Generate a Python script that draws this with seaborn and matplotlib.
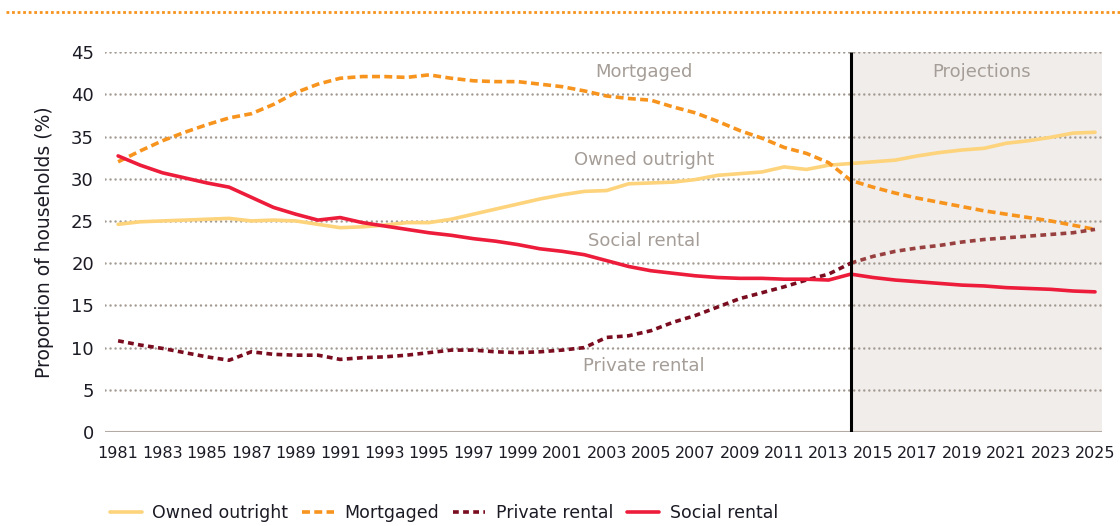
import numpy as np
import pandas as pd
import matplotlib
matplotlib.use("Agg")
import matplotlib.pyplot as plt
from matplotlib import font_manager
from matplotlib.lines import Line2D
import seaborn as sns

years = list(range(1981, 2026))

owned_outright = [24.6, 24.9, 25.0, 25.1, 25.2, 25.3, 25.0, 25.1, 25.0, 24.6,
                  24.2, 24.3, 24.5, 24.8, 24.8, 25.2, 25.8, 26.4, 27.0, 27.6,
                  28.1, 28.5, 28.6, 29.4, 29.5, 29.6, 29.9, 30.4, 30.6, 30.8,
                  31.4, 31.1, 31.6, 31.8, 32.0, 32.2, 32.7, 33.1, 33.4, 33.6,
                  34.2, 34.5, 34.9, 35.4, 35.5]
mortgaged = [32.0, 33.3, 34.5, 35.5, 36.4, 37.2, 37.7, 38.8, 40.2, 41.2,
             41.9, 42.1, 42.1, 42.0, 42.3, 41.9, 41.6, 41.5, 41.5, 41.2,
             40.9, 40.4, 39.8, 39.5, 39.3, 38.5, 37.8, 36.8, 35.7, 34.8,
             33.7, 33.0, 31.9, 29.8, 29.0, 28.3, 27.7, 27.2, 26.7, 26.2,
             25.8, 25.4, 25.0, 24.5, 24.0]
private_rental = [10.8, 10.3, 9.9, 9.4, 8.9, 8.5, 9.5, 9.2, 9.1, 9.1,
                  8.6, 8.8, 8.9, 9.1, 9.4, 9.7, 9.7, 9.5, 9.4, 9.5,
                  9.7, 10.0, 11.2, 11.4, 12.0, 13.0, 13.8, 14.8, 15.8, 16.5,
                  17.2, 18.0, 18.7, 20.0, 20.8, 21.4, 21.8, 22.1, 22.5, 22.8,
                  23.0, 23.2, 23.4, 23.6, 24.0]
social_rental = [32.7, 31.6, 30.7, 30.1, 29.5, 29.0, 27.8, 26.6, 25.8, 25.1,
                 25.4, 24.8, 24.4, 24.0, 23.6, 23.3, 22.9, 22.6, 22.2, 21.7,
                 21.4, 21.0, 20.3, 19.6, 19.1, 18.8, 18.5, 18.3, 18.2, 18.2,
                 18.1, 18.1, 18.0, 18.7, 18.3, 18.0, 17.8, 17.6, 17.4, 17.3,
                 17.1, 17.0, 16.9, 16.7, 16.6]

projection_start = 2014
xtick_years = list(range(1981, 2026, 2))
yticks = list(range(0, 50, 5))

df = pd.DataFrame({"year": years,
                   "Owned outright": owned_outright,
                   "Mortgaged": mortgaged,
                   "Private rental": private_rental,
                   "Social rental": social_rental})

sns.set_style("white")

# the original uses a narrow grotesque; use a narrow face if one is there
names = {f.name for f in font_manager.fontManager.ttflist}
if "Liberation Sans Narrow" in names:
    plt.rcParams['font.family'] = ['Liberation Sans Narrow', 'DejaVu Sans']
    fs_x, fs_y, fs_leg = 14, 14, 14
else:
    plt.rcParams['font.family'] = ['DejaVu Sans']
    fs_x, fs_y, fs_leg = 11.5, 13, 12.5

fig = plt.figure(figsize=(11.2, 5.26), dpi=100)
ax = fig.add_axes([0.09375, 0.1787, 0.8903, 0.7223])

# projection background
ax.axvspan(projection_start, 2025.32, color="#F1EDEA", lw=0, zorder=0)

# dotted grid
for yv in yticks[1:]:
    ax.axhline(yv, color="#A39A92", lw=1.8, ls=(0, (0.01, 2.0)),
               dash_capstyle="round", zorder=1)
ax.axhline(0, color="#B3ABA4", lw=1.5, zorder=1)

lw = 2.6
dash_m = (0, (2.2, 1.2))
dash_p = (0, (1.6, 1.2))
sns.lineplot(data=df, x="year", y="Owned outright", ax=ax, color="#FDD37C",
             lw=lw, label="Owned outright", zorder=3)
sns.lineplot(data=df, x="year", y="Mortgaged", ax=ax, color="#F7941E",
             lw=lw, ls=dash_m, label="Mortgaged", zorder=3)
hist = df[df.year <= projection_start]
proj = df[df.year >= projection_start]
sns.lineplot(data=hist, x="year", y="Private rental", ax=ax, color="#7A0C1F",
             lw=lw, ls=dash_p, label="Private rental", zorder=3)
sns.lineplot(data=proj, x="year", y="Private rental", ax=ax, color="#98403F",
             lw=lw, ls=dash_p, label="_nolegend_", zorder=3)
sns.lineplot(data=df, x="year", y="Social rental", ax=ax, color="#EC1C3A",
             lw=lw, label="Social rental", zorder=3)

ax.plot([projection_start, projection_start], [-0.15, 45], color="black",
        lw=2.2, zorder=4, solid_capstyle="butt")

# series labels
lab_col = "#A59D97"
lfs = 13
ax.text(2004.7, 42.6, "Mortgaged", color=lab_col, fontsize=lfs, ha="center", va="center")
ax.text(2004.7, 32.2, "Owned outright", color=lab_col, fontsize=lfs, ha="center", va="center")
ax.text(2004.7, 22.6, "Social rental", color=lab_col, fontsize=lfs, ha="center", va="center")
ax.text(2004.7, 7.8, "Private rental", color=lab_col, fontsize=lfs, ha="center", va="center")
ax.text(2019.9, 42.6, "Projections", color=lab_col, fontsize=lfs, ha="center", va="center")

ax.set_xlim(1980.41, 2025.32)
ax.set_ylim(0, 45)
ax.set_xticks(xtick_years)
ax.set_xticklabels([str(y) for y in xtick_years])
ax.set_yticks(yticks)
ax.tick_params(axis="both", length=0, labelcolor="#1B1B25")
ax.tick_params(axis="x", pad=10, labelsize=fs_x)
ax.tick_params(axis="y", pad=8, labelsize=fs_y)
ax.set_xlabel("")
ax.set_ylabel("Proportion of households (%)", fontsize=fs_y + 0.5,
              color="#1B1B25", labelpad=12)
for s in ax.spines.values():
    s.set_visible(False)
ax.grid(False)

handles, labels = ax.get_legend_handles_labels()
ax.get_legend().remove()
fig.legend(handles, labels, loc="lower left", bbox_to_anchor=(0.084, -0.022),
           ncol=4, frameon=False, fontsize=fs_leg, handlelength=1.85,
           handletextpad=0.6, columnspacing=0.8, labelcolor="#1B1B25")

# decorative dotted rule at the top
fig.add_artist(Line2D([0.005, 1.0], [0.977, 0.977], transform=fig.transFigure,
                      color="#F7941E", lw=2.0, ls=(0, (1, 1))))

fig.savefig("out.png", dpi=100)
